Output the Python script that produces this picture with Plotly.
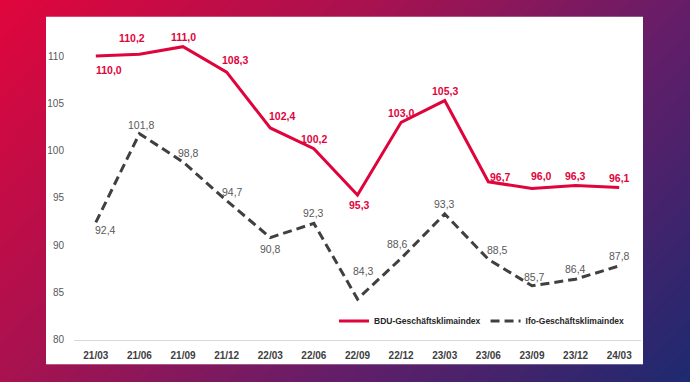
import plotly.graph_objects as go

# ---- data ----
quarters = ["21/03", "21/06", "21/09", "21/12", "22/03", "22/06", "22/09",
            "22/12", "23/03", "23/06", "23/09", "23/12", "24/03"]
bdu = [110.0, 110.2, 111.0, 108.3, 102.4, 100.2, 95.3, 103.0, 105.3, 96.7, 96.0, 96.3, 96.1]
ifo = [92.4, 101.8, 98.8, 94.7, 90.8, 92.3, 84.3, 88.6, 93.3, 88.5, 85.7, 86.4, 87.8]
y_ticks = [80, 85, 90, 95, 100, 105, 110]
series_names = ["BDU-Geschäftsklimaindex", "Ifo-Geschäftsklimaindex"]

# ---- label offsets (pixels, dx right, dy down) ----
bdu_off = [(13, 14), (-7, -16), (0, -10), (8, -12), (12, -12), (0, -10), (2, 10),
           (0, -9), (0, -10), (12, -5), (10, -12), (0, -10), (0, -9)]
ifo_off = [(10, 8), (2, -9), (5, -9), (6, -9), (0, 11), (0, -10), (6, -28),
           (-4, -14), (0, -10), (9, -9), (3, -9), (0, -10), (0, -10)]

RED = "#e0043c"
GRAY = "#404040"
FONT = "Liberation Sans, Arial, sans-serif"

W, H = 690, 388
fig = go.Figure()

# background gradient (subplot xy, full paper)
fig.add_trace(go.Heatmap(
    x=[0, 1], y=[0, 1], z=[[0.35, 1.0], [0.0, 0.65]],
    zsmooth="best", showscale=False, hoverinfo="skip",
    colorscale=[[0, "#e0063c"], [0.35, "#a8124f"], [0.65, "#661d68"], [1, "#1d2a70"]],
    zmin=0, zmax=1, xaxis="x", yaxis="y"))

# white panel subplot (x2y2) - background only
fig.add_trace(go.Scatter(x=[], y=[], xaxis="x2", yaxis="y2", showlegend=False))

# data lines (x3y3)
fig.add_trace(go.Scatter(
    x=quarters, y=bdu, mode="lines", name=series_names[0],
    line=dict(color=RED, width=3), xaxis="x3", yaxis="y3"))
fig.add_trace(go.Scatter(
    x=quarters, y=ifo, mode="lines", name=series_names[1],
    line=dict(color=GRAY, width=3, dash="9px,5px"), xaxis="x3", yaxis="y3"))

ann = []
for q, v, (dx, dy) in zip(quarters, bdu, bdu_off):
    ann.append(dict(x=q, y=v, xref="x3", yref="y3", text=f"{v:.1f}".replace(".", ","),
                    showarrow=False, xshift=dx, yshift=-dy,
                    font=dict(family=FONT, size=10.5, color=RED, weight="bold")))
for q, v, (dx, dy) in zip(quarters, ifo, ifo_off):
    ann.append(dict(x=q, y=v, xref="x3", yref="y3", text=f"{v:.1f}".replace(".", ","),
                    showarrow=False, xshift=dx, yshift=-dy,
                    font=dict(family=FONT, size=10.5, color="#595959")))

hidden = dict(visible=False, fixedrange=True)
fig.update_layout(
    width=W, height=H,
    margin=dict(l=0, r=0, t=0, b=0),
    paper_bgcolor="white", plot_bgcolor="white",
    font=dict(family=FONT),
    xaxis=dict(domain=[0, 1], range=[0, 1], **hidden),
    yaxis=dict(domain=[0, 1], range=[0, 1], **hidden),
    xaxis2=dict(domain=[46 / W, 643 / W], range=[0, 1], anchor="y2", **hidden),
    yaxis2=dict(domain=[1 - 370 / H, 1 - 17 / H], range=[0, 1], anchor="x2", **hidden),
    xaxis3=dict(domain=[74 / W, 641 / W], anchor="y3", type="category",
                range=[-0.5, len(quarters) - 0.5],
                showline=True, linecolor="#d9d9d9", linewidth=1,
                showgrid=False, ticks="", ticklabelstandoff=6,
                tickfont=dict(family=FONT, size=10, color=GRAY, weight="bold")),
    yaxis3=dict(domain=[1 - 345 / H, 1 - 28.2 / H], anchor="x3", range=[80, 113],
                tickvals=y_ticks, showgrid=False, zeroline=False, showline=False,
                ticks="", ticklabelstandoff=9,
                tickfont=dict(family=FONT, size=10, color="#595959")),
    legend=dict(orientation="h", x=630 / W, xanchor="right", y=1 - 326 / H,
                yanchor="middle", bgcolor="rgba(0,0,0,0)",
                font=dict(family=FONT, size=8.5, color="#262626", weight="bold"),
                itemwidth=30, tracegroupgap=0),
    annotations=ann,
    showlegend=True,
)

fig.write_html("out.html", config={"displayModeBar": False},
               post_script="document.body.style.margin='0';document.body.style.overflow='hidden';")
